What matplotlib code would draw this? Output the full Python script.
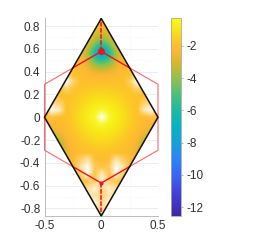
import numpy as np
import matplotlib
matplotlib.use("Agg")
import matplotlib.pyplot as plt
from matplotlib.colors import LinearSegmentedColormap, Normalize
from matplotlib.patches import Polygon
from matplotlib.cm import ScalarMappable

plt.rcParams['font.family'] = ['Liberation Sans', 'DejaVu Sans']

# half-field columns (x >= 0), mirrored on x = 0
x_half = [0, .0625, .125, .1875, .25, .3125, .375, .4375, .5]
y_rows = [.875, .8125, .75, .6875, .625, .5625, .5, .4375, .375, .3125, .25, .1875, .125, .0625, 0,
          -.0625, -.125, -.1875, -.25, -.3125, -.375, -.4375, -.5, -.5625, -.625, -.6875, -.75, -.8125, -.875]
field_half = [
    [-2.2, -2.2, -2.2, -2.2, -2.2, -2.2, -2.2, -2.2, -2.2],
    [-2.4, -2.3, -2.2, -2.2, -2.2, -2.2, -2.2, -2.2, -2.2],
    [-3.0, -2.6, -2.2, -2.1, -2.1, -2.1, -2.1, -2.1, -2.1],
    [-4.2, -3.2, -2.4, -2.1, -2.1, -2.1, -2.1, -2.1, -2.1],
    [-6.2, -4.6, -2.8, -2.2, -2.1, -2.1, -2.1, -2.1, -2.1],
    [-9.0, -6.6, -3.6, -2.4, -2.1, -2.0, -2.0, -2.0, -2.0],
    [-5.8, -5.0, -3.2, -2.3, -2.1, -2.0, -2.0, -2.0, -2.0],
    [-3.8, -3.4, -2.7, -2.2, -2.0, -2.0, -2.0, -2.0, -2.0],
    [-2.4, -2.4, -2.2, -2.0, -2.0, -2.0, -2.0, -2.0, -2.0],
    [-2.0, -2.0, -2.0, -2.0, -2.0, -2.0, -2.0, -2.0, -2.0],
    [-1.6, -1.6, -1.7, -1.8, -1.9, -2.0, -2.0, -2.0, -2.0],
    [-1.2, -1.3, -1.4, -1.6, -1.8, -1.9, -2.0, -2.0, -2.0],
    [-0.8, -0.9, -1.1, -1.4, -1.7, -1.9, -2.0, -2.0, -2.0],
    [-0.4, -0.5, -0.8, -1.2, -1.6, -1.9, -2.0, -2.0, -2.0],
    [-0.3, -0.4, -0.7, -1.1, -1.6, -2.0, -2.1, -2.2, -2.2],
    [-0.4, -0.5, -0.8, -1.2, -1.6, -2.0, -2.2, -2.4, -2.6],
    [-0.8, -0.9, -1.1, -1.4, -1.8, -2.1, -2.5, -2.9, -3.0],
    [-1.1, -1.2, -1.4, -1.7, -2.0, -2.4, -3.2, -3.4, -3.4],
    [-1.5, -1.6, -1.7, -1.9, -2.2, -2.6, -4.2, -4.2, -4.2],
    [-1.9, -1.9, -1.9, -2.0, -2.3, -3.0, -3.4, -3.4, -3.4],
    [-2.1, -2.1, -2.1, -2.1, -2.2, -2.6, -2.6, -2.6, -2.6],
    [-2.1, -2.1, -2.1, -2.1, -2.1, -2.2, -2.2, -2.2, -2.2],
    [-2.1, -2.1, -2.1, -2.1, -2.1, -2.2, -2.2, -2.2, -2.2],
    [-2.1, -2.1, -2.1, -2.1, -2.1, -2.2, -2.2, -2.2, -2.2],
    [-2.1, -2.1, -2.1, -2.1, -2.1, -2.1, -2.1, -2.1, -2.1],
    [-2.1, -2.1, -2.1, -2.1, -2.1, -2.1, -2.1, -2.1, -2.1],
    [-2.1, -2.1, -2.1, -2.1, -2.1, -2.1, -2.1, -2.1, -2.1],
    [-2.1, -2.1, -2.1, -2.1, -2.1, -2.1, -2.1, -2.1, -2.1],
    [-2.1, -2.1, -2.1, -2.1, -2.1, -2.1, -2.1, -2.1, -2.1],
]
# pale (almost white) patches on top of the field, 0 = none, 1 = white
pale_half = [
    [0, 0, 0, 0, 0, 0, 0, 0, 0],
    [0, 0, 0, 0, 0, 0, 0, 0, 0],
    [0, 0, 0, 0, 0, 0, 0, 0, 0],
    [0, 0, 0, 0, 0, 0, 0, 0, 0],
    [0, 0, 0, 0, 0, 0, 0, 0, 0],
    [0, 0, 0, 0, 0, 0, 0, 0, 0],
    [0, 0, 0, 0, 0, 0, 0, 0, 0],
    [0, 0, 0, 0, 0, 0, 0, 0, 0],
    [0, 0, 0, 0, 0, .25, .4, 0, 0],
    [0, 0, 0, 0, .3, 1, .5, 0, 0],
    [0, 0, 0, 0, .05, .35, 0, 0, 0],
    [0, 0, 0, 0, 0, 0, 0, 0, 0],
    [0, 0, 0, 0, 0, 0, .3, .4, 0],
    [.15, 0, 0, 0, 0, 0, .7, .95, 0],
    [1, .1, 0, 0, 0, 0, 0, .1, 0],
    [.15, 0, 0, 0, 0, 0, 0, 0, 0],
    [0, 0, 0, 0, 0, 0, 0, 0, 0],
    [0, 0, 0, 0, 0, 0, 0, 0, 0],
    [0, 0, 0, 0, 0, 0, 0, 0, 0],
    [0, 0, 0, 0, 0, 0, 0, 0, 0],
    [0, .05, .6, .3, 0, 0, 0, 0, 0],
    [.1, .2, 1, .55, 0, 0, 0, 0, 0],
    [.7, .1, .85, .25, 0, 0, 0, 0, 0],
    [.8, .3, .15, 0, 0, 0, 0, 0, 0],
    [.4, .8, .5, 0, 0, 0, 0, 0, 0],
    [.3, .6, .5, 0, 0, 0, 0, 0, 0],
    [.45, .85, .5, 0, 0, 0, 0, 0, 0],
    [.5, .5, 0, 0, 0, 0, 0, 0, 0],
    [.2, 0, 0, 0, 0, 0, 0, 0, 0],
]

rhomb_x = [0, .5, 0, -.5]
rhomb_y = [.866, 0, -.866, 0]
hex_outer_x = [.25, .5, .5, .25]
hex_outer_y = [.433, .289, -.289, -.433]
node_x = [0, 0]
node_y = [.577, -.577]

x_ticks = [-.5, 0, .5]
x_labels = ['-0.5', '0', '0.5']
y_ticks = [-.8, -.6, -.4, -.2, 0, .2, .4, .6, .8]
y_labels = ['-0.8', '-0.6', '-0.4', '-0.2', '0', '0.2', '0.4', '0.6', '0.8']
cb_ticks = [-12, -10, -8, -6, -4, -2]
cb_labels = ['-12', '-10', '-8', '-6', '-4', '-2']

vmin, vtop = -12.55, -0.3
stops = [(-12.55, '#3e26a8'), (-11, '#4145d8'), (-10, '#3a66f5'), (-9, '#2a85f2'), (-8, '#15a2d8'),
         (-7, '#02b5c4'), (-6, '#1bbaa4'), (-5, '#49c07c'), (-4, '#93c04c'), (-3.2, '#cdb92c'),
         (-2.4, '#fdb634'), (-1.8, '#fdc429'), (-1.0, '#f8e418'), (-0.3, '#f9fb15')]
cmap = LinearSegmentedColormap.from_list(
    'p', [((v - vmin) / (vtop - vmin), c) for v, c in stops], N=1024)
norm = Normalize(vmin, vtop)
pale_cmap = LinearSegmentedColormap.from_list('w', [(1, 1, 1, 0), (1, 1, 1, 1)], N=256)

W, H = 275, 243
fig = plt.figure(figsize=(W / 100, H / 100), dpi=100)
ax = fig.add_axes([44.5 / W, 1 - 216 / H, 113.5 / W, 197.5 / H])

half = np.array(field_half)
field = np.hstack([half[:, :0:-1], half])
pale = np.array(pale_half)
pale = np.hstack([pale[:, :0:-1], pale])
ext = [-.53125, .53125, -.90625, .90625]
im = ax.imshow(field, extent=ext, cmap=cmap, norm=norm, interpolation='bicubic', aspect='auto', zorder=2)
im2 = ax.imshow(pale, extent=ext, cmap=pale_cmap, vmin=0, vmax=1, interpolation='bilinear', aspect='auto', zorder=2.5)
rh = Polygon(np.column_stack([rhomb_x, rhomb_y]), closed=True, transform=ax.transData,
             fc='none', ec='none')
ax.add_patch(rh)
im.set_clip_path(rh)
im2.set_clip_path(rh)
ax.set_xlim(-.5, .5)
ax.set_ylim(-.866, .866)

ax.set_xticks(x_ticks, x_labels)
ax.set_yticks(y_ticks, y_labels)
ax.set_xticks(np.array(x_ticks[:-1]) + .25, minor=True)
ax.set_yticks(np.array(y_ticks[:-1]) + .1, minor=True)
ax.grid(True, which='major', color='#e8e8e8', lw=.5, zorder=0)
ax.grid(True, which='minor', color='#f2f2f2', lw=.5, ls=':', zorder=0)
ax.set_axisbelow(True)
ax.tick_params(which='both', length=0, labelsize=8.5, labelcolor='#303030', pad=3)
for s in ('top', 'right'):
    ax.spines[s].set_visible(False)
for s in ('left', 'bottom'):
    ax.spines[s].set_color('#bdbdbd')
    ax.spines[s].set_linewidth(.7)

# outer hexagon, both sides
for sgn in (1, -1):
    ax.plot(sgn * np.array(hex_outer_x), hex_outer_y, color='#ff6666', lw=.8, clip_on=False, zorder=3)
    # inner spokes
    ax.plot([hex_outer_x[0] * sgn, node_x[0]], [hex_outer_y[0], node_y[0]], color='#f01020', lw=1.0, zorder=4)
    ax.plot([hex_outer_x[-1] * sgn, node_x[1]], [hex_outer_y[-1], node_y[1]], color='#f01020', lw=1.0, zorder=4)
ax.plot([0, 0], [node_y[0], rhomb_y[0]], color='#f01020', lw=1.1, ls=(0, (3, 1)), zorder=4, clip_on=False)
ax.plot([0, 0], [node_y[1], rhomb_y[2]], color='#f01020', lw=1.1, ls=(0, (3, 1)), zorder=4, clip_on=False)
ax.plot(node_x[0], node_y[0], 'o', ms=5, color='#f0102a', mec='none', zorder=5)
ax.plot(node_x[1], node_y[1], 'o', ms=3, color='#f0102a', mec='none', zorder=5)
ax.add_patch(Polygon(np.column_stack([rhomb_x, rhomb_y]), closed=True, fc='none', ec='#111111',
                     lw=1.1, clip_on=False, zorder=6))

cax = fig.add_axes([171 / W, 1 - 216 / H, 9.5 / W, 197.5 / H])
cb = fig.colorbar(ScalarMappable(norm=norm, cmap=cmap), cax=cax)
cb.set_ticks(cb_ticks, labels=cb_labels)
cb.ax.tick_params(length=1.5, width=.4, color='#777777', labelsize=8.5, labelcolor='#303030', pad=3)
cb.outline.set_edgecolor('#a8a8a8')
cb.outline.set_linewidth(.6)

fig.savefig('out.png', dpi=100)
